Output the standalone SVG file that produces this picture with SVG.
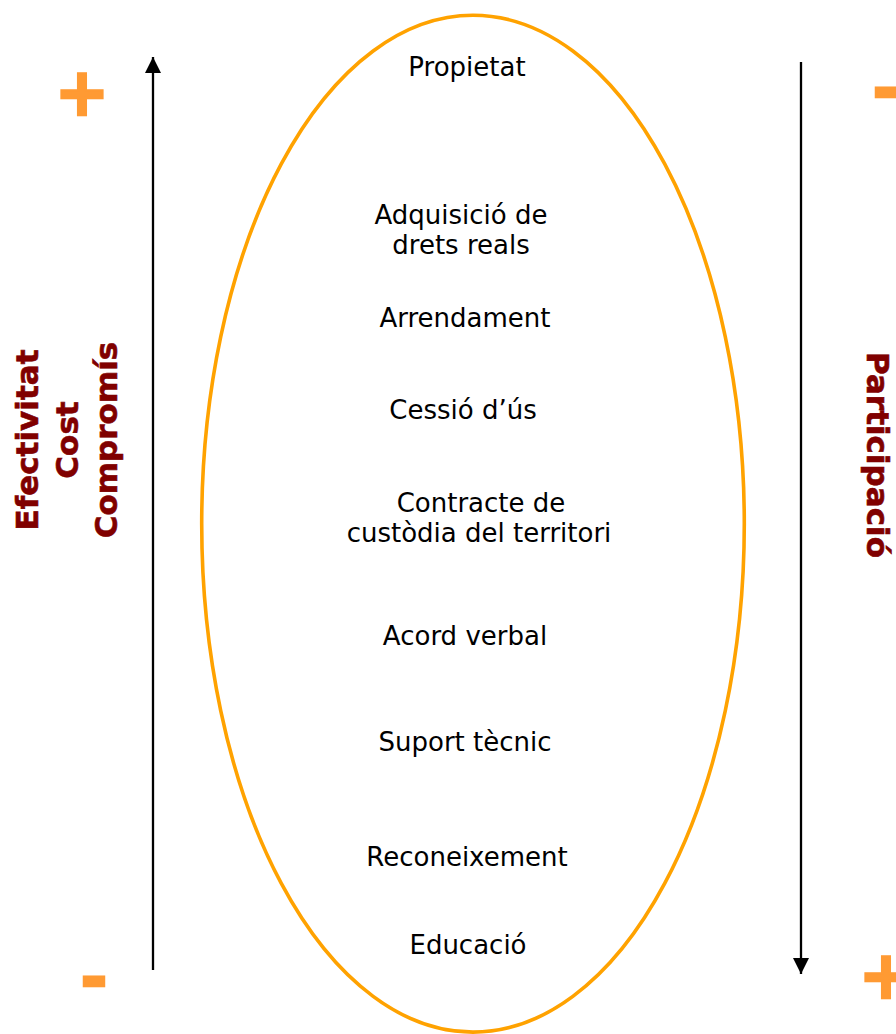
<svg xmlns="http://www.w3.org/2000/svg" width="896" height="1034" viewBox="0 0 896 1034">
<style>
.lbl{font-family:"DejaVu Sans","Verdana",sans-serif;font-size:26px;fill:#000;text-anchor:middle}
.axis{font-family:"DejaVu Sans","Verdana",sans-serif;font-size:31px;font-weight:bold;fill:#800000;stroke:#800000;stroke-width:0.6;text-anchor:middle}
.sign{font-family:"DejaVu Sans","Verdana",sans-serif;font-size:65px;font-weight:bold;fill:#FF9A33;stroke:#FF9A33;stroke-width:2.5;text-anchor:middle}
.ax{stroke:#000;stroke-width:2.3;fill:none}
</style>
<defs>
<marker id="ah" viewBox="0 0 16 16" refX="16" refY="8" markerWidth="16" markerHeight="16" markerUnits="userSpaceOnUse" orient="auto">
<path d="M0,0 L16,8 L0,16 Z" fill="#000"/>
</marker>
</defs>
<rect width="896" height="1034" fill="#fff"/>
<g id="ellipse">
<ellipse cx="473" cy="523.7" rx="271.3" ry="508.4" fill="none" stroke="#FFA200" stroke-width="3.6"/>
</g>
<g id="connectors">
<line class="ax" x1="153" y1="970" x2="153" y2="57" marker-end="url(#ah)"/>
<line class="ax" x1="801" y1="62" x2="801" y2="974" marker-end="url(#ah)"/>
</g>
<g id="n-propietat"><text class="lbl" x="467" y="76">Propietat</text></g>
<g id="n-adquisicio"><text class="lbl" x="461" y="224">Adquisició de</text><text class="lbl" x="461" y="254">drets reals</text></g>
<g id="n-arrendament"><text class="lbl" x="465" y="327">Arrendament</text></g>
<g id="n-cessio"><text class="lbl" x="463" y="419">Cessió d’ús</text></g>
<g id="n-contracte"><text class="lbl" x="481" y="512">Contracte de</text><text class="lbl" x="479" y="542">custòdia del territori</text></g>
<g id="n-acord"><text class="lbl" x="465" y="645">Acord verbal</text></g>
<g id="n-suport"><text class="lbl" x="465" y="751">Suport tècnic</text></g>
<g id="n-reconeixement"><text class="lbl" x="467" y="866">Reconeixement</text></g>
<g id="n-educacio"><text class="lbl" x="468" y="954">Educació</text></g>
<g id="left-axis">
<text class="axis" transform="translate(38,440) rotate(-90)">Efectivitat</text>
<text class="axis" transform="translate(78,440) rotate(-90)">Cost</text>
<text class="axis" transform="translate(117,440) rotate(-90)">Compromís</text>
</g>
<g id="right-axis">
<text class="axis" transform="translate(867,455) rotate(90)">Participació</text>
</g>
<g id="signs">
<text class="sign" x="82" y="115">+</text>
<text class="sign" x="94" y="1000">-</text>
<text class="sign" x="886" y="111">-</text>
<text class="sign" x="886" y="998">+</text>
</g>
</svg>
